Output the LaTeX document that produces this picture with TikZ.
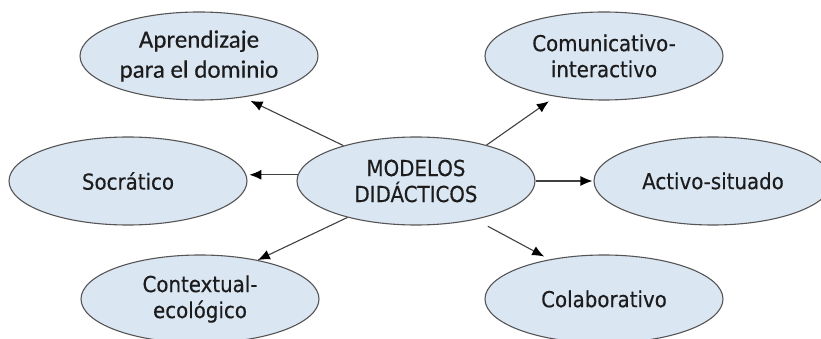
\documentclass[tikz,border=0pt]{standalone}
\usepackage{fontspec}
\setmainfont{DejaVu Sans}[FakeStretch=0.9, FakeBold=0.4]
\newfontfamily\corbelish{Carlito}[FakeBold=0.4]
\usetikzlibrary{shapes.geometric,arrows.meta}
\definecolor{ovalfill}{HTML}{DBE6F3}
\definecolor{ovalline}{HTML}{555555}
\definecolor{txt}{HTML}{1C1C1C}
\definecolor{arrowc}{HTML}{404040}
\tikzset{
  oval/.style={ellipse, draw=ovalline, line width=1.1pt, fill=ovalfill,
    minimum width=238pt, minimum height=88pt, inner sep=0pt, align=center,
    text=txt, font=\fontsize{22}{26}\selectfont},
  conn/.style={draw=arrowc, line width=1.1pt,
    -{Latex[length=12pt,width=10pt,fill=black,color=black]}}
}
\begin{document}
\begin{tikzpicture}[x=1pt,y=-1pt]
\useasboundingbox (0,0) rectangle (821,339);
\clip (0,0) rectangle (821,339);
\node[oval, font=\corbelish\fontsize{25}{30}\selectfont] (a) at (199,56) {Aprendizaje\\para el dominio};
\node[oval] (b) at (604,56) {Comunicativo-\\interactivo};
\node[oval] (s) at (128,181) {Socrático};
\node[oval] (c) at (416,181) {MODELOS\\DIDÁCTICOS};
\node[oval] (d) at (713,181) {Activo-situado};
\node[oval] (e) at (200,299) {Contextual-\\ecológico};
\node[oval] (f) at (604,299) {Colaborativo};
\draw[conn, shorten >=8pt] (c.154) -- (a.-43);
\draw[conn, shorten >=8pt] (c.27) -- (b.220);
\draw[conn, shorten >=3pt] (c.177) -- (s.3);
\draw[conn, shorten >=1pt] (c.0) -- (d.180);
\draw[conn] (c.208) -- (e.34);
\draw[conn, shorten <=14pt, shorten >=6pt] (c.-33) -- (f.144);
\end{tikzpicture}
\end{document}
